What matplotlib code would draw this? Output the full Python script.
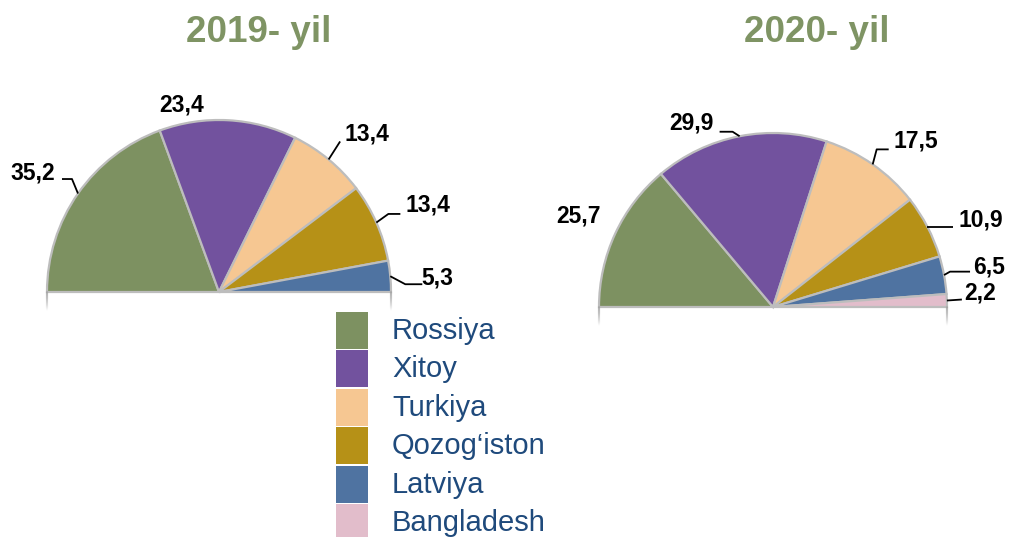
import numpy as np
import matplotlib
matplotlib.use('Agg')
import matplotlib.pyplot as plt
from matplotlib.patches import Rectangle

plt.rcParams['font.family'] = ['Liberation Sans', 'DejaVu Sans']

# data
countries = ['Rossiya', 'Xitoy', 'Turkiya', 'Qozog\u2018iston', 'Latviya', 'Bangladesh']
vals_2019 = [35.2, 23.4, 13.4, 13.4, 5.3, 0]
vals_2020 = [25.7, 29.9, 17.5, 10.9, 6.5, 2.2]
titles = ['2019- yil', '2020- yil']

colors = ['#7d9161', '#72529e', '#f6c792', '#b69117', '#4f73a1', '#e2bdcb']
edge = '#bdbdbd'
W, H = 1009, 537

fig = plt.figure(figsize=(W / 100, H / 100), dpi=100)
ax = fig.add_axes([0, 0, 1, 1])

# pie layout in pixels (y down): centre, radius, title centre
pies = [
    dict(vals=vals_2019, c=(219, 292), r=172, t=(259, 32),
         # per label: elbow offset, line end offset, text centre offset (from arc point)
         lab=[((-6, -14.5), (-16, -14.5), (-45, -21)),
              (None, None, (-47, -15.5)),
              ((11.5, -18), (11.5, -18), (38.5, -25)),
              ((12, -8.6), (24, -8.6), (52, -17.6)),
              ((15, 8), (32, 8), (47, 2)),
              None]),
    dict(vals=vals_2020, c=(773, 307), r=174, t=(817, 32),
         lab=[(None, None, (-37, -18)),
              ((-7, -4.5), (-20, -4.5), (-48, -13)),
              ((4, -15), (16, -15), (43, -23)),
              ((0, 0), (26, 0), (53, -7)),
              ((6, -3.4), (26, -3.4), (45, -8.4)),
              ((0, 0), (15, -1), (33, -7.5))]),
]

for p, title in zip(pies, titles):
    idx = [i for i, v in enumerate(p['vals']) if v > 0]
    v = [p['vals'][i] for i in idx]
    cols = [colors[i] for i in idx]
    tot = sum(v)
    # hidden lower half so the visible slices fill 180 degrees
    wedges, _ = ax.pie(v + [tot], colors=cols + ['none'], startangle=180,
                       counterclock=True, center=p['c'], radius=p['r'],
                       frame=True,
                       wedgeprops=dict(edgecolor=edge, linewidth=1.6))
    wedges[-1].set_visible(False)
    cx, cy = p['c']
    r = p['r']
    # faint side shadow under the flat edge
    for k in range(18):
        a = 0.35 * (1 - k / 18)
        ax.plot([cx - r, cx - r], [cy + k, cy + k + 1], color='#999999', alpha=a, lw=1.5)
        ax.plot([cx + r, cx + r], [cy + k, cy + k + 1], color='#999999', alpha=a, lw=1.5)

    for w, i in zip(wedges[:-1], idx):
        ang = np.deg2rad((w.theta1 + w.theta2) / 2)
        ax_, ay_ = cx + r * np.cos(ang), cy + r * np.sin(ang)
        el, end, tc = p['lab'][i]
        if el is not None:
            ax.plot([ax_, ax_ + el[0], ax_ + end[0]], [ay_, ay_ + el[1], ay_ + end[1]],
                    color='black', lw=1.3, solid_capstyle='butt')
        txt = ('%.1f' % p['vals'][i]).replace('.', ',')
        ax.text(ax_ + tc[0], ay_ + tc[1], txt, ha='center', va='center',
                fontsize=16.5, fontweight='bold', color='black')

    ax.text(p['t'][0], p['t'][1], title, ha='center', va='center',
            fontsize=26.5, fontweight='bold', color='#7f9464')

# legend
for i, (name, col) in enumerate(zip(countries, colors)):
    y0 = 311.7 + i * 38.5
    ax.add_patch(Rectangle((336, y0), 32, 37, facecolor=col, edgecolor='none'))
    ax.text(392, y0 + 19, name, ha='left', va='center', fontsize=21, color='#1f4a7c')

ax.set_xlim(0, W)
ax.set_ylim(H, 0)
ax.set_aspect('equal')
ax.axis('off')

fig.savefig('out.png', dpi=100)
